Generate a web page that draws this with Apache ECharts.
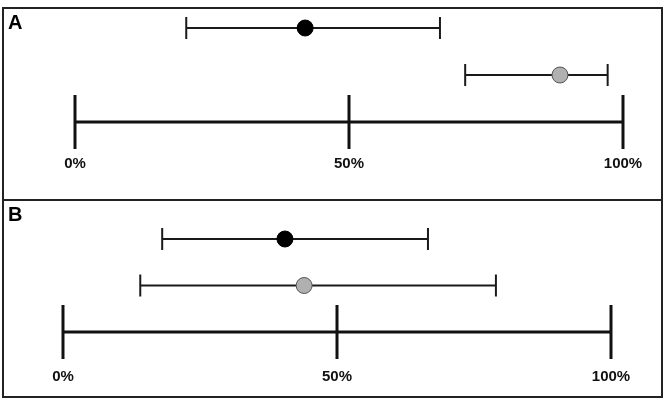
<!DOCTYPE html>
<html>
<head>
<meta charset="utf-8">
<script src="https://cdn.jsdelivr.net/npm/echarts@6/dist/echarts.min.js"></script>
<style>html,body{margin:0;padding:0;background:#fff}#c{width:666px;height:402px}</style>
</head>
<body>
<div id="c"></div>
<script>
// ---- data ----
const panelLabels = ['A', 'B'];
const rows = ['scale', 'grey', 'black'];
const scaleTicks = [0, 50, 100];
const blackEst = [42, 40.5];
const blackLow = [20.3, 18.1];
const blackHigh = [66.6, 66.6];
const greyEst = [88.5, 44];
const greyLow = [71.2, 14.1];
const greyHigh = [97.2, 79.0];

const chart = echarts.init(document.getElementById('c'), null, {renderer: 'canvas'});

function errBar(params, api) {
  const y = api.value(2);
  const p1 = api.coord([api.value(0), y]);
  const p2 = api.coord([api.value(1), y]);
  const h = 11;
  const st = {stroke: '#1a1a1a', lineWidth: 2};
  return {type: 'group', children: [
    {type: 'line', shape: {x1: p1[0], y1: p1[1], x2: p2[0], y2: p2[1]}, style: st},
    {type: 'line', shape: {x1: p1[0], y1: p1[1] - h, x2: p1[0], y2: p1[1] + h}, style: st},
    {type: 'line', shape: {x1: p2[0], y1: p2[1] - h, x2: p2[0], y2: p2[1] + h}, style: st}
  ]};
}
function scaleBar(params, api) {
  const y = api.value(2);
  const p1 = api.coord([api.value(0), y]);
  const p2 = api.coord([api.value(1), y]);
  const h = 27;
  const st = {stroke: '#111', lineWidth: 3};
  const children = [{type: 'line', shape: {x1: p1[0], y1: p1[1], x2: p2[0], y2: p2[1]}, style: st}];
  scaleTicks.forEach(t => {
    const p = api.coord([t, y]);
    children.push({type: 'line', shape: {x1: p[0], y1: p[1] - h, x2: p[0], y2: p[1] + h}, style: st});
  });
  return {type: 'group', children};
}

const series = [];
[0, 1].forEach(i => {
  series.push({type: 'custom', xAxisIndex: i, yAxisIndex: i, renderItem: scaleBar,
    encode: {x: [0, 1], y: 2}, data: [[scaleTicks[0], scaleTicks[scaleTicks.length - 1], 'scale']], z: 2});
  series.push({type: 'custom', xAxisIndex: i, yAxisIndex: i, renderItem: errBar,
    encode: {x: [0, 1], y: 2},
    data: [[blackLow[i], blackHigh[i], 'black'], [greyLow[i], greyHigh[i], 'grey']], z: 2});
  series.push({type: 'scatter', xAxisIndex: i, yAxisIndex: i, symbolSize: 16, z: 5,
    itemStyle: {opacity: 1},
    data: [{value: [blackEst[i], 'black'], itemStyle: {color: '#000', borderColor: '#000', borderWidth: 1, opacity: 1}},
           {value: [greyEst[i], 'grey'], itemStyle: {color: '#b0b0b0', borderColor: '#555', borderWidth: 1, opacity: 1}}]});
});

chart.setOption({
  animation: false,
  backgroundColor: '#fff',
  grid: [
    {left: 75, width: 548, top: 28, height: 94},
    {left: 63, width: 548, top: 239, height: 93}
  ],
  xAxis: [0, 1].map(i => ({
    type: 'value', gridIndex: i, min: 0, max: 100, interval: 50,
    axisLine: {show: false}, axisTick: {show: false}, splitLine: {show: false},
    axisLabel: {formatter: '{value}%', fontWeight: 'bold', fontSize: 15, color: '#111',
      fontFamily: 'Liberation Sans', margin: i ? 37 : 34}
  })),
  yAxis: [0, 1].map(i => ({type: 'category', gridIndex: i, data: rows, boundaryGap: false, show: false})),
  graphic: [
    {type: 'rect', shape: {x: 3, y: 8, width: 659, height: 192}, style: {fill: 'none', stroke: '#222', lineWidth: 2}},
    {type: 'rect', shape: {x: 3, y: 200, width: 659, height: 197}, style: {fill: 'none', stroke: '#222', lineWidth: 2}},
    {type: 'text', left: 8, top: 13, style: {text: panelLabels[0], font: 'bold 20px Liberation Sans', fill: '#000'}},
    {type: 'text', left: 8, top: 205, style: {text: panelLabels[1], font: 'bold 20px Liberation Sans', fill: '#000'}}
  ],
  series
});
</script>
</body>
</html>
